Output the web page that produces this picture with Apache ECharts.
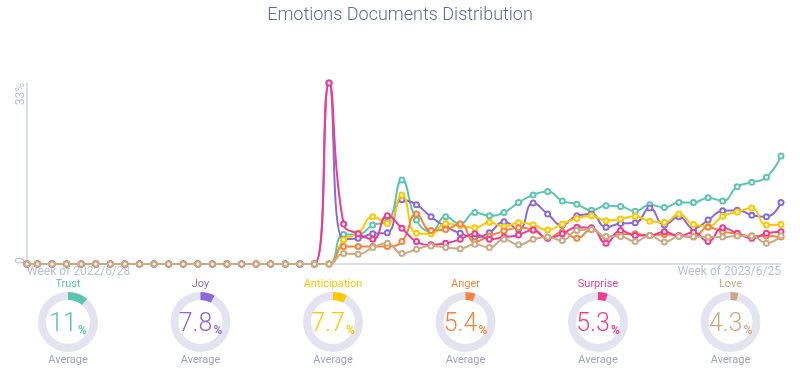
<!DOCTYPE html>
<html><head><meta charset="utf-8">
<script src="https://cdn.jsdelivr.net/npm/echarts@6/dist/echarts.min.js"></script>
<style>html,body{margin:0;padding:0;background:#fff}#c{width:800px;height:380px}</style>
</head><body><div id="c"></div>
<script>
const weeks = ['2022-06-28','2022-07-03','2022-07-10','2022-07-17','2022-07-24','2022-07-31','2022-08-07','2022-08-14','2022-08-21','2022-08-28','2022-09-04','2022-09-11','2022-09-18','2022-09-25','2022-10-02','2022-10-09','2022-10-16','2022-10-23','2022-10-30','2022-11-06','2022-11-13','2022-11-20','2022-11-27','2022-12-04','2022-12-11','2022-12-18','2022-12-25','2023-01-01','2023-01-08','2023-01-15','2023-01-22','2023-01-29','2023-02-05','2023-02-12','2023-02-19','2023-02-26','2023-03-05','2023-03-12','2023-03-19','2023-03-26','2023-04-02','2023-04-09','2023-04-16','2023-04-23','2023-04-30','2023-05-07','2023-05-14','2023-05-21','2023-05-28','2023-06-04','2023-06-11','2023-06-18','2023-06-25'];
const trust = [0,0,0,0,0,0,0,0,0,0,0,0,0,0,0,0,0,0,0,0,0,0,5.4,5.4,7.1,7.7,15.3,8.0,5.9,8.6,7.3,9.4,8.8,9.4,11.2,12.6,13.2,11.5,10.9,9.8,10.6,10.5,9.6,10.8,10.3,11.2,11.2,12.1,11.5,14.1,14.9,15.8,19.7];
const joy = [0,0,0,0,0,0,0,0,0,0,0,0,0,0,0,0,0,0,0,0,0,33,4.5,4.7,5.5,5.7,11.7,10.8,8.6,6.8,5.6,4.9,5.7,7.7,6.3,11.1,9.1,7.1,8.8,9.1,6.7,7.4,7.5,10.2,7.1,8.6,6.5,8.0,9.7,9.8,8.9,8.6,11.2];
const anticipation = [0,0,0,0,0,0,0,0,0,0,0,0,0,0,0,0,0,0,0,0,0,0,4.4,5.6,8.6,7.4,12.6,5.6,5.5,7.4,7.0,6.6,7.6,6.8,7.5,7.1,6.2,7.3,8.3,8.8,7.9,8.2,8.7,7.8,7.6,9.1,7.2,6.9,8.7,9.5,10.2,7.1,7.2];
const anger = [0,0,0,0,0,0,0,0,0,0,0,0,0,0,0,0,0,0,0,0,0,0,3.2,3.2,3.2,3.2,4.1,9.1,6.1,6.3,7.3,4.1,5.1,6.0,6.6,6.2,4.7,5.9,4.7,6.3,4.9,5.4,5.5,5.2,5.4,5.2,4.9,6.7,5.9,5.5,5.1,5.1,4.9];
const surprise = [0,0,0,0,0,0,0,0,0,0,0,0,0,0,0,0,0,0,0,0,0,33,7.3,5.5,4.5,8.8,6.5,4.1,3.5,3.8,4.5,5.5,4.5,4.9,5.3,6.2,4.7,5.5,6.7,6.6,3.8,6.1,5.2,5.2,5.9,5.1,5.8,4.1,6.6,5.6,4.7,5.6,5.9];
const love = [0,0,0,0,0,0,0,0,0,0,0,0,0,0,0,0,0,0,0,0,0,0,1.9,1.8,3.0,3.8,1.9,2.7,3.3,3.0,2.8,3.6,3.0,4.5,3.5,4.5,4.9,4.3,6.1,6.3,5.0,5.0,4.1,5.2,4.0,5.0,5.0,4.9,4.9,5.1,5.1,3.8,5.1];
const emotionNames = ['Trust','Joy','Anticipation','Anger','Surprise','Love'];
const averages = [11, 7.8, 7.7, 5.4, 5.3, 4.3];
const yTicks = [0, 33];

const seriesValues = [trust, joy, anticipation, anger, surprise, love];
const colors = ['#5cc5b0','#8a6ad6','#fcc800','#f5843a','#ee3c8f','#c9aa85'];
const gaugeX = [68, 200.5, 333, 465.5, 598, 730.5];
const ts = s => { const [y,m,d] = s.split('-').map(Number); return new Date(y, m-1, d).getTime(); };
const tMin = ts(weeks[0]), tMax = ts(weeks[weeks.length-1]);
const fmtWeek = v => { const d = new Date(v); return 'Week of ' + d.getFullYear() + '/' + (d.getMonth()+1) + '/' + d.getDate(); };

const chart = echarts.init(document.getElementById('c'), null, {renderer:'canvas'});
const lineSeries = emotionNames.map((name, i) => ({
  type: 'line', name, smooth: true,
  symbol: 'emptyCircle', symbolSize: 5, showAllSymbol: true,
  lineStyle: {width: 2, color: colors[i]},
  itemStyle: {color: colors[i], borderWidth: 1.5},
  data: weeks.map((w, k) => [ts(w), seriesValues[i][k]]),
  z: 2 + i
}));
const gaugeSeries = emotionNames.map((name, i) => ({
  type: 'gauge', center: [gaugeX[i], 322], radius: 30,
  startAngle: 90, endAngle: -270, min: 0, max: 100,
  pointer: {show: false},
  progress: {show: true, width: 8, itemStyle: {color: colors[i]}},
  axisLine: {lineStyle: {width: 8, color: [[1, '#e4e4f0']]}},
  axisTick: {show: false}, splitLine: {show: false}, axisLabel: {show: false},
  anchor: {show: false},
  title: {offsetCenter: [0, -38], fontSize: 11, color: colors[i], fontFamily: 'Roboto'},
  detail: {
    offsetCenter: [0, 1], valueAnimation: false,
    formatter: v => '{v|' + v + '}{p|%}',
    rich: {
      v: {fontSize: 25, color: colors[i], fontFamily: 'Roboto', fontWeight: 300, lineHeight: 28, verticalAlign: 'bottom'},
      p: {fontSize: 12, color: colors[i], fontFamily: 'Roboto', lineHeight: 28, verticalAlign: 'bottom', padding: [0,0,0,1]}
    }
  },
  data: [{value: averages[i], name}]
}));
const titles = [{
  text: 'Emotions Documents Distribution', left: 'center', top: 6, padding: 0,
  textStyle: {fontSize: 18, fontWeight: 300, color: '#5d6b8c', fontFamily: 'Roboto'}
}].concat(gaugeX.map(x => ({
  text: 'Average', left: x, top: 355, padding: 0, textAlign: 'center',
  textStyle: {fontSize: 11, fontWeight: 'normal', color: '#9ea3bb', fontFamily: 'Roboto'}
})));

chart.setOption({
  animation: false,
  title: titles,
  grid: {left: 27, right: 19, top: 83, bottom: 116},
  xAxis: {
    type: 'time', min: tMin, max: tMax,
    axisLine: {lineStyle: {color: '#cfd4e2', width: 1.5}},
    axisTick: {show: false}, splitLine: {show: false},
    axisLabel: {
      formatter: v => (v === tMin || v === tMax) ? fmtWeek(v) : '',
      hideOverlap: false, alignMinLabel: 'left', alignMaxLabel: 'right',
      color: '#b9bfd3', fontSize: 12, margin: 2, fontFamily: 'Roboto',
      showMinLabel: true, showMaxLabel: true
    }
  },
  yAxis: {
    type: 'value', min: yTicks[0], max: yTicks[1], interval: yTicks[1] - yTicks[0],
    axisLine: {show: true, lineStyle: {color: '#cfd4e2', width: 1.5}},
    axisTick: {show: false}, splitLine: {show: false},
    axisLabel: {
      rotate: 90, verticalAlign: 'middle',
      alignMinLabel: 'left', alignMaxLabel: 'right',
      formatter: v => v === 0 ? '0' : v + '%',
      color: '#b9bfd3', fontSize: 12, margin: 6, fontFamily: 'Roboto'
    }
  },
  series: lineSeries.concat(gaugeSeries)
});
</script></body></html>
